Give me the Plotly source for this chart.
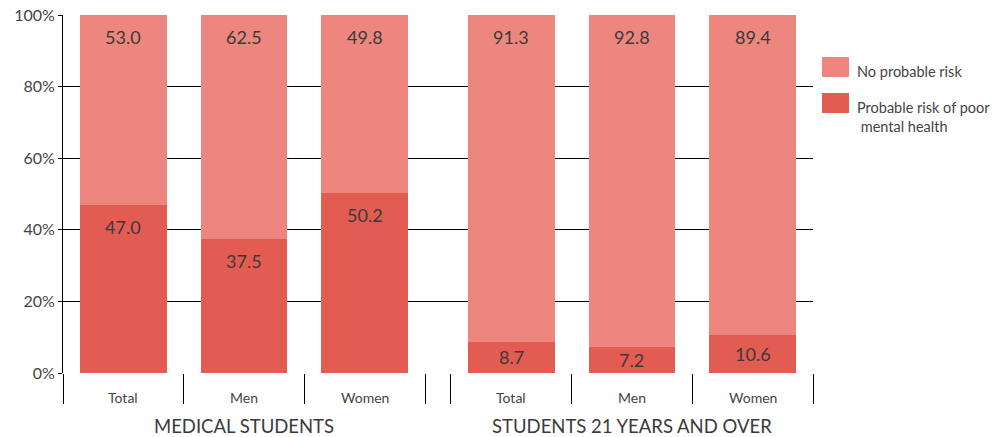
import plotly.graph_objects as go

# ---- data ----
categories = ["Total", "Men", "Women", "Total", "Men", "Women"]
group_of = [0, 0, 0, 1, 1, 1]
groups = ["MEDICAL STUDENTS", "STUDENTS 21 YEARS AND OVER"]
risk = [47.0, 37.5, 50.2, 8.7, 7.2, 10.6]
no_risk = [53.0, 62.5, 49.8, 91.3, 92.8, 89.4]
series_names = ["No probable risk", "Probable risk of poor<br>\u00a0mental health"]
y_ticks = [0, 20, 40, 60, 80, 100]

# ---- styling ----
LIGHT = "#EE8680"
DARK = "#E35C52"
FONT = "Lato"
GAP = 0.215
BAR_W = 0.72

W, H = 995, 437
ML, MR, MT, MB = 63, 182, 15, 64
PW, PH = W - ML - MR, H - MT - MB

within = []
counts = {}
for g in group_of:
    within.append(counts.get(g, 0))
    counts[g] = counts.get(g, 0) + 1
xpos = [g * (3 + GAP) + i + 0.5 for g, i in zip(group_of, within)]
x_end = 2 * 3 + GAP

fig = go.Figure()
fig.add_trace(go.Bar(x=xpos, y=risk, width=BAR_W, marker=dict(color=DARK, line=dict(width=0)),
                     name=series_names[1], showlegend=False))
fig.add_trace(go.Bar(x=xpos, y=no_risk, width=BAR_W, marker=dict(color=LIGHT, line=dict(width=0)),
                     name=series_names[0], showlegend=False))
fig.update_layout(barmode="stack")

annotations = []
px_per_unit = PH / 100.0
off = 22 / px_per_unit
for x, r, n in zip(xpos, risk, no_risk):
    for base, v in ((0, r), (r, n)):
        top = base + v
        yv = max(top - off, base + v / 2)
        annotations.append(dict(x=x, y=yv, xref="x", yref="y", text=f"{v:.1f}", showarrow=False,
                                yanchor="middle", font=dict(family=FONT, size=18, color="#3a3a3a")))
for x, c in zip(xpos, categories):
    annotations.append(dict(x=x, y=0, xref="x", yref="paper", text=c, showarrow=False,
                            yanchor="middle", yshift=-24, font=dict(family=FONT, size=14, color="#444")))
for gi, gname in enumerate(groups):
    xs = [x for x, g in zip(xpos, group_of) if g == gi]
    annotations.append(dict(x=sum(xs) / len(xs), y=0, xref="x", yref="paper", text=gname, showarrow=False,
                            yanchor="middle", yshift=-53, font=dict(family=FONT, size=18.5, color="#3a3a3a")))

# legend drawn manually
def px_to_paper(px, py):
    return (px - ML) / PW, (H - MB - py) / PH

shapes = []
leg = [(series_names[0], LIGHT, 57), (series_names[1], DARK, 93)]
for name, col, ytop in leg:
    x0, y0 = px_to_paper(822, ytop + 20)
    x1, y1 = px_to_paper(849, ytop)
    shapes.append(dict(type="rect", xref="paper", yref="paper", x0=x0, x1=x1, y0=y0, y1=y1,
                       fillcolor=col, line=dict(width=0)))
    tx, ty = px_to_paper(855, ytop + 4)
    annotations.append(dict(x=tx, y=ty, xref="paper", yref="paper", text=name, showarrow=False,
                            xanchor="left", yanchor="top", align="left",
                            font=dict(family=FONT, size=14.5, color="#444")))

fig.update_layout(
    width=W, height=H,
    margin=dict(l=ML, r=MR, t=MT, b=MB, autoexpand=False),
    paper_bgcolor="white", plot_bgcolor="white",
    annotations=annotations, shapes=shapes,
    bargap=0,
    xaxis=dict(range=[0, x_end], tickvals=[0, 1, 2, 3, 3 + GAP, 4 + GAP, 5 + GAP, 6 + GAP],
               ticks="outside", ticklen=30, tickcolor="black", tickwidth=1, automargin=False,
               showticklabels=False, showgrid=False, zeroline=False, showline=False),
    yaxis=dict(range=[0, 100], tickmode="array", tickvals=y_ticks, ticktext=[f"{v}%" for v in y_ticks],
               ticks="outside", ticklen=4, automargin=False,
               tickcolor="black", showgrid=True, gridcolor="black", gridwidth=1,
               showline=True, linecolor="black", linewidth=1, zeroline=False,
               tickfont=dict(family=FONT, size=16, color="#444")),
)

fig.write_html("out.html")
